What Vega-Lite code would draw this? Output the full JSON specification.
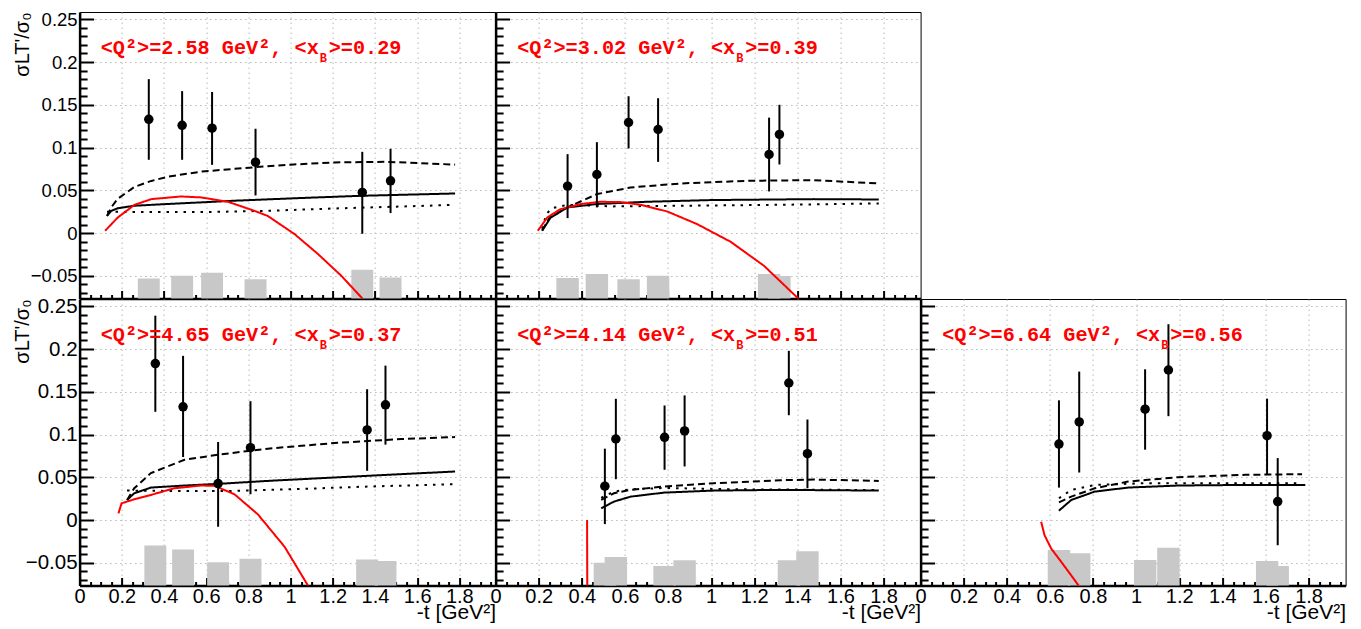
{
"$schema": "https://vega.github.io/schema/vega-lite/v6.json",
"background": "white",
"padding": {"left": 11.6, "top": 9, "right": 0, "bottom": 0},
"bounds": "flush",
"spacing": 0,
"columns": 3,
"config": {
  "view": {"stroke": "#000000", "strokeWidth": 1},
  "axis": {"labelFont": "Liberation Sans", "titleFont": "Liberation Sans", "labelColor": "#000000", "titleColor": "#000000", "tickColor": "#000000", "domainColor": "#000000", "titleFontWeight": "normal", "labelFlush": false, "labelOverlap": false, "gridColor": "#b8b8b8", "gridDash": [1.5, 3.5], "gridWidth": 1}
},
"datasets": {
  "points": [
    {"p":1,"t":0.328,"v":0.133,"lo":0.0857,"hi":0.180},
    {"p":1,"t":0.486,"v":0.126,"lo":0.0857,"hi":0.166},
    {"p":1,"t":0.628,"v":0.1227,"lo":0.0798,"hi":0.165},
    {"p":1,"t":0.834,"v":0.0829,"lo":0.044,"hi":0.122},
    {"p":1,"t":1.340,"v":0.0475,"lo":-0.0008,"hi":0.095},
    {"p":1,"t":1.474,"v":0.0611,"lo":0.0234,"hi":0.0985},
    {"p":2,"t":0.334,"v":0.0549,"lo":0.0175,"hi":0.0923},
    {"p":2,"t":0.470,"v":0.0685,"lo":0.030,"hi":0.1063},
    {"p":2,"t":0.617,"v":0.1293,"lo":0.0989,"hi":0.160},
    {"p":2,"t":0.754,"v":0.1211,"lo":0.0833,"hi":0.1577},
    {"p":2,"t":1.269,"v":0.0919,"lo":0.0487,"hi":0.135},
    {"p":2,"t":1.317,"v":0.1153,"lo":0.0802,"hi":0.150},
    {"p":3,"t":0.359,"v":0.183,"lo":0.1266,"hi":0.239},
    {"p":3,"t":0.4905,"v":0.1324,"lo":0.0737,"hi":0.192},
    {"p":3,"t":0.6566,"v":0.0427,"lo":-0.0078,"hi":0.0913},
    {"p":3,"t":0.810,"v":0.0846,"lo":0.0302,"hi":0.139},
    {"p":3,"t":1.363,"v":0.1054,"lo":0.0576,"hi":0.153},
    {"p":3,"t":1.450,"v":0.1348,"lo":0.0882,"hi":0.1806},
    {"p":4,"t":0.507,"v":0.0396,"lo":-0.0047,"hi":0.0835},
    {"p":4,"t":0.558,"v":0.0948,"lo":0.0478,"hi":0.1418},
    {"p":4,"t":0.784,"v":0.0968,"lo":0.0588,"hi":0.134},
    {"p":4,"t":0.877,"v":0.1042,"lo":0.0627,"hi":0.1458},
    {"p":4,"t":1.3606,"v":0.1603,"lo":0.1226,"hi":0.1979},
    {"p":4,"t":1.447,"v":0.0776,"lo":0.0372,"hi":0.1176},
    {"p":5,"t":0.642,"v":0.0889,"lo":0.038,"hi":0.140},
    {"p":5,"t":0.736,"v":0.1148,"lo":0.0556,"hi":0.1736},
    {"p":5,"t":1.0417,"v":0.1297,"lo":0.0823,"hi":0.1763},
    {"p":5,"t":1.150,"v":0.1755,"lo":0.1215,"hi":0.229},
    {"p":5,"t":1.6076,"v":0.0987,"lo":0.0537,"hi":0.142},
    {"p":5,"t":1.657,"v":0.0216,"lo":-0.0294,"hi":0.0725}
  ],
  "sys": [
    {"p":1,"t0":0.276,"t1":0.380,"top":-0.053},
    {"p":1,"t0":0.434,"t1":0.538,"top":-0.0498},
    {"p":1,"t0":0.576,"t1":0.680,"top":-0.0463},
    {"p":1,"t0":0.782,"t1":0.886,"top":-0.0541},
    {"p":1,"t0":1.288,"t1":1.392,"top":-0.0428},
    {"p":1,"t0":1.422,"t1":1.526,"top":-0.0518},
    {"p":2,"t0":0.282,"t1":0.386,"top":-0.0526},
    {"p":2,"t0":0.418,"t1":0.522,"top":-0.0479},
    {"p":2,"t0":0.565,"t1":0.669,"top":-0.0541},
    {"p":2,"t0":0.702,"t1":0.806,"top":-0.0498},
    {"p":2,"t0":1.265,"t1":1.369,"top":-0.0502},
    {"p":2,"t0":1.217,"t1":1.321,"top":-0.0479},
    {"p":3,"t0":0.307,"t1":0.411,"top":-0.0298},
    {"p":3,"t0":0.4385,"t1":0.5425,"top":-0.0345},
    {"p":3,"t0":0.6046,"t1":0.7086,"top":-0.0494},
    {"p":3,"t0":0.758,"t1":0.862,"top":-0.0451},
    {"p":3,"t0":1.311,"t1":1.415,"top":-0.0462},
    {"p":3,"t0":1.398,"t1":1.502,"top":-0.0478},
    {"p":4,"t0":0.455,"t1":0.559,"top":-0.0498},
    {"p":4,"t0":0.506,"t1":0.610,"top":-0.0431},
    {"p":4,"t0":0.732,"t1":0.836,"top":-0.0537},
    {"p":4,"t0":0.825,"t1":0.929,"top":-0.047},
    {"p":4,"t0":1.309,"t1":1.413,"top":-0.047},
    {"p":4,"t0":1.395,"t1":1.499,"top":-0.0364},
    {"p":5,"t0":0.590,"t1":0.694,"top":-0.0349},
    {"p":5,"t0":0.684,"t1":0.788,"top":-0.0388},
    {"p":5,"t0":0.990,"t1":1.094,"top":-0.0466},
    {"p":5,"t0":1.098,"t1":1.202,"top":-0.0325},
    {"p":5,"t0":1.556,"t1":1.660,"top":-0.0478},
    {"p":5,"t0":1.605,"t1":1.709,"top":-0.0537}
  ],
  "curves": [
    {"p":1,"m":"dashed","t":0.13,"v":0.02},{"p":1,"m":"dashed","t":0.15,"v":0.03},{"p":1,"m":"dashed","t":0.18,"v":0.04},{"p":1,"m":"dashed","t":0.26,"v":0.054},{"p":1,"m":"dashed","t":0.34,"v":0.061},{"p":1,"m":"dashed","t":0.42,"v":0.066},{"p":1,"m":"dashed","t":0.58,"v":0.072},{"p":1,"m":"dashed","t":0.83,"v":0.077},{"p":1,"m":"dashed","t":1.0,"v":0.080},{"p":1,"m":"dashed","t":1.21,"v":0.0826},{"p":1,"m":"dashed","t":1.445,"v":0.0833},{"p":1,"m":"dashed","t":1.6,"v":0.082},{"p":1,"m":"dashed","t":1.78,"v":0.080},
    {"p":1,"m":"solid","t":0.13,"v":0.020},{"p":1,"m":"solid","t":0.15,"v":0.026},{"p":1,"m":"solid","t":0.18,"v":0.029},{"p":1,"m":"solid","t":0.26,"v":0.032},{"p":1,"m":"solid","t":0.42,"v":0.034},{"p":1,"m":"solid","t":0.73,"v":0.0378},{"p":1,"m":"solid","t":1.05,"v":0.041},{"p":1,"m":"solid","t":1.335,"v":0.0436},{"p":1,"m":"solid","t":1.78,"v":0.0463},
    {"p":1,"m":"dotted","t":0.13,"v":0.025},{"p":1,"m":"dotted","t":0.26,"v":0.0245},{"p":1,"m":"dotted","t":0.58,"v":0.0245},{"p":1,"m":"dotted","t":0.89,"v":0.026},{"p":1,"m":"dotted","t":1.21,"v":0.0288},{"p":1,"m":"dotted","t":1.52,"v":0.031},{"p":1,"m":"dotted","t":1.78,"v":0.033},
    {"p":1,"m":"red","t":0.121,"v":0.0027},{"p":1,"m":"red","t":0.18,"v":0.018},{"p":1,"m":"red","t":0.26,"v":0.033},{"p":1,"m":"red","t":0.34,"v":0.0397},{"p":1,"m":"red","t":0.48,"v":0.0428},{"p":1,"m":"red","t":0.576,"v":0.0417},{"p":1,"m":"red","t":0.703,"v":0.0366},{"p":1,"m":"red","t":0.829,"v":0.026},{"p":1,"m":"red","t":0.892,"v":0.020},{"p":1,"m":"red","t":1.019,"v":-0.0012},{"p":1,"m":"red","t":1.13,"v":-0.0245},{"p":1,"m":"red","t":1.24,"v":-0.0498},{"p":1,"m":"red","t":1.335,"v":-0.075},{"p":1,"m":"red","t":1.36,"v":-0.082},
    {"p":2,"m":"dashed","t":0.216,"v":0.003},{"p":2,"m":"dashed","t":0.25,"v":0.018},{"p":2,"m":"dashed","t":0.333,"v":0.030},{"p":2,"m":"dashed","t":0.471,"v":0.0456},{"p":2,"m":"dashed","t":0.6265,"v":0.0533},{"p":2,"m":"dashed","t":0.858,"v":0.058},{"p":2,"m":"dashed","t":1.167,"v":0.0611},{"p":2,"m":"dashed","t":1.476,"v":0.0619},{"p":2,"m":"dashed","t":1.778,"v":0.058},
    {"p":2,"m":"solid","t":0.216,"v":0.0027},{"p":2,"m":"solid","t":0.255,"v":0.018},{"p":2,"m":"solid","t":0.333,"v":0.030},{"p":2,"m":"solid","t":0.471,"v":0.034},{"p":2,"m":"solid","t":0.703,"v":0.0366},{"p":2,"m":"solid","t":1.0,"v":0.0386},{"p":2,"m":"solid","t":1.476,"v":0.0397},{"p":2,"m":"solid","t":1.778,"v":0.0393},
    {"p":2,"m":"dotted","t":0.216,"v":0.005},{"p":2,"m":"dotted","t":0.235,"v":0.022},{"p":2,"m":"dotted","t":0.26,"v":0.029},{"p":2,"m":"dotted","t":0.333,"v":0.0331},{"p":2,"m":"dotted","t":0.54,"v":0.0312},{"p":2,"m":"dotted","t":1.0,"v":0.0323},{"p":2,"m":"dotted","t":1.476,"v":0.0335},{"p":2,"m":"dotted","t":1.778,"v":0.0347},
    {"p":2,"m":"red","t":0.196,"v":0.0027},{"p":2,"m":"red","t":0.24,"v":0.0183},{"p":2,"m":"red","t":0.301,"v":0.028},{"p":2,"m":"red","t":0.394,"v":0.0339},{"p":2,"m":"red","t":0.487,"v":0.0366},{"p":2,"m":"red","t":0.58,"v":0.0362},{"p":2,"m":"red","t":0.672,"v":0.0331},{"p":2,"m":"red","t":0.796,"v":0.0253},{"p":2,"m":"red","t":0.935,"v":0.0105},{"p":2,"m":"red","t":1.09,"v":-0.0101},{"p":2,"m":"red","t":1.245,"v":-0.0382},{"p":2,"m":"red","t":1.399,"v":-0.0752},{"p":2,"m":"red","t":1.42,"v":-0.082},
    {"p":3,"m":"dashed","t":0.225,"v":0.0235},{"p":3,"m":"dashed","t":0.259,"v":0.0372},{"p":3,"m":"dashed","t":0.338,"v":0.0549},{"p":3,"m":"dashed","t":0.497,"v":0.0705},{"p":3,"m":"dashed","t":0.655,"v":0.0764},{"p":3,"m":"dashed","t":0.892,"v":0.0835},{"p":3,"m":"dashed","t":1.208,"v":0.0901},{"p":3,"m":"dashed","t":1.524,"v":0.0948},{"p":3,"m":"dashed","t":1.78,"v":0.097},
    {"p":3,"m":"solid","t":0.225,"v":0.0235},{"p":3,"m":"solid","t":0.259,"v":0.0313},{"p":3,"m":"solid","t":0.338,"v":0.038},{"p":3,"m":"solid","t":0.497,"v":0.0404},{"p":3,"m":"solid","t":0.655,"v":0.0423},{"p":3,"m":"solid","t":0.892,"v":0.0458},{"p":3,"m":"solid","t":1.208,"v":0.0498},{"p":3,"m":"solid","t":1.524,"v":0.0537},{"p":3,"m":"solid","t":1.78,"v":0.0568},
    {"p":3,"m":"dotted","t":0.225,"v":0.0345},{"p":3,"m":"dotted","t":0.414,"v":0.0341},{"p":3,"m":"dotted","t":0.734,"v":0.0341},{"p":3,"m":"dotted","t":1.05,"v":0.0364},{"p":3,"m":"dotted","t":1.366,"v":0.0392},{"p":3,"m":"dotted","t":1.78,"v":0.042},
    {"p":3,"m":"red","t":0.184,"v":0.0078},{"p":3,"m":"red","t":0.199,"v":0.0196},{"p":3,"m":"red","t":0.259,"v":0.0243},{"p":3,"m":"red","t":0.338,"v":0.0294},{"p":3,"m":"red","t":0.449,"v":0.0372},{"p":3,"m":"red","t":0.576,"v":0.0404},{"p":3,"m":"red","t":0.639,"v":0.040},{"p":3,"m":"red","t":0.734,"v":0.0302},{"p":3,"m":"red","t":0.845,"v":0.0067},{"p":3,"m":"red","t":0.972,"v":-0.0313},{"p":3,"m":"red","t":1.082,"v":-0.0764},{"p":3,"m":"red","t":1.1,"v":-0.083},
    {"p":4,"m":"red","t":0.4245,"v":0.0},{"p":4,"m":"red","t":0.4255,"v":-0.09},
    {"p":4,"m":"dashed","t":0.49,"v":0.0235},{"p":4,"m":"dashed","t":0.549,"v":0.0313},{"p":4,"m":"dashed","t":0.626,"v":0.0353},{"p":4,"m":"dashed","t":0.781,"v":0.0392},{"p":4,"m":"dashed","t":1.013,"v":0.0431},{"p":4,"m":"dashed","t":1.322,"v":0.0466},{"p":4,"m":"dashed","t":1.476,"v":0.0474},{"p":4,"m":"dashed","t":1.778,"v":0.0458},
    {"p":4,"m":"solid","t":0.49,"v":0.0137},{"p":4,"m":"solid","t":0.549,"v":0.0216},{"p":4,"m":"solid","t":0.626,"v":0.0274},{"p":4,"m":"solid","t":0.781,"v":0.0321},{"p":4,"m":"solid","t":1.013,"v":0.0345},{"p":4,"m":"solid","t":1.322,"v":0.0353},{"p":4,"m":"solid","t":1.778,"v":0.0345},
    {"p":4,"m":"dotted","t":0.49,"v":0.026},{"p":4,"m":"dotted","t":0.549,"v":0.0333},{"p":4,"m":"dotted","t":0.626,"v":0.036},{"p":4,"m":"dotted","t":0.781,"v":0.0375},{"p":4,"m":"dotted","t":0.9,"v":0.037},{"p":4,"m":"dotted","t":1.1,"v":0.036},{"p":4,"m":"dotted","t":1.5,"v":0.0355},{"p":4,"m":"dotted","t":1.778,"v":0.035},
    {"p":5,"m":"red","t":0.5595,"v":-0.002},{"p":5,"m":"red","t":0.575,"v":-0.0176},{"p":5,"m":"red","t":0.606,"v":-0.0333},{"p":5,"m":"red","t":0.653,"v":-0.049},{"p":5,"m":"red","t":0.699,"v":-0.0647},{"p":5,"m":"red","t":0.735,"v":-0.0772},{"p":5,"m":"red","t":0.75,"v":-0.083},
    {"p":5,"m":"dashed","t":0.642,"v":0.0208},{"p":5,"m":"dashed","t":0.699,"v":0.0274},{"p":5,"m":"dashed","t":0.808,"v":0.0372},{"p":5,"m":"dashed","t":0.963,"v":0.045},{"p":5,"m":"dashed","t":1.196,"v":0.0502},{"p":5,"m":"dashed","t":1.506,"v":0.0529},{"p":5,"m":"dashed","t":1.77,"v":0.0537},
    {"p":5,"m":"solid","t":0.642,"v":0.011},{"p":5,"m":"solid","t":0.699,"v":0.0235},{"p":5,"m":"solid","t":0.808,"v":0.0333},{"p":5,"m":"solid","t":0.963,"v":0.038},{"p":5,"m":"solid","t":1.196,"v":0.0404},{"p":5,"m":"solid","t":1.506,"v":0.0411},{"p":5,"m":"solid","t":1.785,"v":0.0411},
    {"p":5,"m":"dotted","t":0.642,"v":0.0255},{"p":5,"m":"dotted","t":0.699,"v":0.0353},{"p":5,"m":"dotted","t":0.808,"v":0.0411},{"p":5,"m":"dotted","t":1.04,"v":0.0431},{"p":5,"m":"dotted","t":1.35,"v":0.0431},{"p":5,"m":"dotted","t":1.77,"v":0.0431}
  ],
  "labels": [
    {"p":1,"a":"<Q²>=2.58 GeV², <x","b":">=0.29"},
    {"p":2,"a":"<Q²>=3.02 GeV², <x","b":">=0.39"},
    {"p":3,"a":"<Q²>=4.65 GeV², <x","b":">=0.37"},
    {"p":4,"a":"<Q²>=4.14 GeV², <x","b":">=0.51"},
    {"p":5,"a":"<Q²>=6.64 GeV², <x","b":">=0.56"}
  ]
},
"concat": [
{
 "width": 416, "height": 286.5,
 "layer": [
  {"data":{"name":"sys"},"transform":[{"filter":"datum.p==1"}],
   "mark":{"type":"rect","color":"#c8c8c8","clip":true},
   "encoding":{
    "x":{"field":"t0","type":"quantitative","scale":{"domain":[0,1.972],"nice":false,"zero":false},
         "axis":{"orient":"bottom","values":[0,0.2,0.4,0.6,0.8,1,1.2,1.4,1.6,1.8],"grid":true,"labels":false,"tickSize":-8,"tickWidth":2,"domain":true,"domainWidth":2.5,"title":null}},
    "x2":{"field":"t1"},
    "y":{"field":"top","type":"quantitative","scale":{"domain":[-0.0765,0.2585],"nice":false,"zero":false},
         "axis":{"orient":"left","values":[-0.05,0,0.05,0.1,0.15,0.2,0.25],"format":"~g","grid":true,"labels":true,"labelFontSize":18.5,"labelPadding":16.5,"tickSize":-14,"tickWidth":2,"domain":true,"domainWidth":2.5,"title":"σLT'/σ₀","titleFontSize":20,"titleAngle":270,"titleX":-57,"titleY":0,"titleAlign":"right","titleBaseline":"middle"}},
    "y2":{"datum":-0.09}}},
  {"data":{"name":"curves"},"transform":[{"filter":"datum.p==1"}],
   "mark":{"type":"line","clip":true,"strokeWidth":2},
   "encoding":{
    "x":{"field":"t","type":"quantitative","scale":{"domain":[0,1.972],"nice":false,"zero":false},
         "axis":{"orient":"bottom","values":[0.05,0.1,0.15,0.25,0.3,0.35,0.45,0.5,0.55,0.65,0.7,0.75,0.85,0.9,0.95,1.05,1.1,1.15,1.25,1.3,1.35,1.45,1.5,1.55,1.65,1.7,1.75,1.85,1.9,1.95],"grid":false,"labels":false,"domain":false,"tickSize":-4,"tickWidth":2,"title":null}},
    "y":{"field":"v","type":"quantitative","scale":{"domain":[-0.0765,0.2585],"nice":false,"zero":false},
         "axis":{"orient":"left","values":[-0.07,-0.06,-0.04,-0.03,-0.02,-0.01,0.01,0.02,0.03,0.04,0.06,0.07,0.08,0.09,0.11,0.12,0.13,0.14,0.16,0.17,0.18,0.19,0.21,0.22,0.23,0.24],"grid":false,"labels":false,"domain":false,"tickSize":-7.5,"tickWidth":2,"title":null}},
    "color":{"field":"m","type":"nominal","scale":{"domain":["solid","dashed","dotted","red"],"range":["#000000","#000000","#000000","#ff0000"]},"legend":null},
    "strokeDash":{"field":"m","type":"nominal","scale":{"domain":["solid","dashed","dotted","red"],"range":[[1,0],[7,4],[2.5,6],[1,0]]},"legend":null}}},
  {"data":{"name":"points"},"transform":[{"filter":"datum.p==1"}],
   "mark":{"type":"rule","color":"#000000","strokeWidth":2},
   "encoding":{"x":{"field":"t","type":"quantitative","scale":{"domain":[0,1.972],"nice":false,"zero":false},"axis":null},
    "y":{"field":"lo","type":"quantitative","scale":{"domain":[-0.0765,0.2585],"nice":false,"zero":false},"axis":null},"y2":{"field":"hi"}}},
  {"data":{"name":"points"},"transform":[{"filter":"datum.p==1"}],
   "mark":{"type":"circle","color":"#000000","size":90,"opacity":1},
   "encoding":{"x":{"field":"t","type":"quantitative","scale":{"domain":[0,1.972],"nice":false,"zero":false},"axis":null},
    "y":{"field":"v","type":"quantitative","scale":{"domain":[-0.0765,0.2585],"nice":false,"zero":false},"axis":null}}},
  {"data":{"name":"labels"},"transform":[{"filter":"datum.p==1"}],
   "mark":{"type":"text","align":"left","baseline":"alphabetic","font":"Liberation Mono","fontWeight":"bold","fontSize":20.2,"color":"#ff0000"},
   "encoding":{"x":{"datum":0.1,"type":"quantitative","scale":{"domain":[0,1.972],"nice":false,"zero":false},"axis":null},
    "y":{"datum":0.2095,"type":"quantitative","scale":{"domain":[-0.0765,0.2585],"nice":false,"zero":false},"axis":null},
    "text":{"field":"a"}}},
  {"data":{"name":"labels"},"transform":[{"filter":"datum.p==1"}],
   "mark":{"type":"text","align":"left","baseline":"alphabetic","font":"Liberation Mono","fontWeight":"bold","fontSize":12,"dx":219,"dy":8,"color":"#ff0000"},
   "encoding":{"x":{"datum":0.1,"type":"quantitative","scale":{"domain":[0,1.972],"nice":false,"zero":false},"axis":null},
    "y":{"datum":0.2095,"type":"quantitative","scale":{"domain":[-0.0765,0.2585],"nice":false,"zero":false},"axis":null},
    "text":{"value":"B"}}},
  {"data":{"name":"labels"},"transform":[{"filter":"datum.p==1"}],
   "mark":{"type":"text","align":"left","baseline":"alphabetic","font":"Liberation Mono","fontWeight":"bold","fontSize":20.2,"dx":228,"color":"#ff0000"},
   "encoding":{"x":{"datum":0.1,"type":"quantitative","scale":{"domain":[0,1.972],"nice":false,"zero":false},"axis":null},
    "y":{"datum":0.2095,"type":"quantitative","scale":{"domain":[-0.0765,0.2585],"nice":false,"zero":false},"axis":null},
    "text":{"field":"b"}}}
 ],
 "resolve":{"axis":{"x":"independent","y":"independent"}}
},
{
 "width": 425, "height": 286.5,
 "layer": [
  {"data":{"name":"sys"},"transform":[{"filter":"datum.p==2"}],
   "mark":{"type":"rect","color":"#c8c8c8","clip":true},
   "encoding":{
    "x":{"field":"t0","type":"quantitative","scale":{"domain":[0,1.972],"nice":false,"zero":false},
         "axis":{"orient":"bottom","values":[0,0.2,0.4,0.6,0.8,1,1.2,1.4,1.6,1.8],"grid":true,"labels":false,"tickSize":-8,"tickWidth":2,"domain":true,"domainWidth":2.5,"title":null}},
    "x2":{"field":"t1"},
    "y":{"field":"top","type":"quantitative","scale":{"domain":[-0.0765,0.2585],"nice":false,"zero":false},
         "axis":{"orient":"left","values":[-0.05,0,0.05,0.1,0.15,0.2,0.25],"grid":true,"labels":false,"tickSize":-14,"tickWidth":2,"domain":true,"domainWidth":2.5,"title":null}},
    "y2":{"datum":-0.09}}},
  {"data":{"name":"curves"},"transform":[{"filter":"datum.p==2"}],
   "mark":{"type":"line","clip":true,"strokeWidth":2},
   "encoding":{
    "x":{"field":"t","type":"quantitative","scale":{"domain":[0,1.972],"nice":false,"zero":false},
         "axis":{"orient":"bottom","values":[0.05,0.1,0.15,0.25,0.3,0.35,0.45,0.5,0.55,0.65,0.7,0.75,0.85,0.9,0.95,1.05,1.1,1.15,1.25,1.3,1.35,1.45,1.5,1.55,1.65,1.7,1.75,1.85,1.9,1.95],"grid":false,"labels":false,"domain":false,"tickSize":-4,"tickWidth":2,"title":null}},
    "y":{"field":"v","type":"quantitative","scale":{"domain":[-0.0765,0.2585],"nice":false,"zero":false},
         "axis":{"orient":"left","values":[-0.07,-0.06,-0.04,-0.03,-0.02,-0.01,0.01,0.02,0.03,0.04,0.06,0.07,0.08,0.09,0.11,0.12,0.13,0.14,0.16,0.17,0.18,0.19,0.21,0.22,0.23,0.24],"grid":false,"labels":false,"domain":false,"tickSize":-7.5,"tickWidth":2,"title":null}},
    "color":{"field":"m","type":"nominal","scale":{"domain":["solid","dashed","dotted","red"],"range":["#000000","#000000","#000000","#ff0000"]},"legend":null},
    "strokeDash":{"field":"m","type":"nominal","scale":{"domain":["solid","dashed","dotted","red"],"range":[[1,0],[7,4],[2.5,6],[1,0]]},"legend":null}}},
  {"data":{"name":"points"},"transform":[{"filter":"datum.p==2"}],
   "mark":{"type":"rule","color":"#000000","strokeWidth":2},
   "encoding":{"x":{"field":"t","type":"quantitative","scale":{"domain":[0,1.972],"nice":false,"zero":false},"axis":null},
    "y":{"field":"lo","type":"quantitative","scale":{"domain":[-0.0765,0.2585],"nice":false,"zero":false},"axis":null},"y2":{"field":"hi"}}},
  {"data":{"name":"points"},"transform":[{"filter":"datum.p==2"}],
   "mark":{"type":"circle","color":"#000000","size":90,"opacity":1},
   "encoding":{"x":{"field":"t","type":"quantitative","scale":{"domain":[0,1.972],"nice":false,"zero":false},"axis":null},
    "y":{"field":"v","type":"quantitative","scale":{"domain":[-0.0765,0.2585],"nice":false,"zero":false},"axis":null}}},
  {"data":{"name":"labels"},"transform":[{"filter":"datum.p==2"}],
   "mark":{"type":"text","align":"left","baseline":"alphabetic","font":"Liberation Mono","fontWeight":"bold","fontSize":20.2,"color":"#ff0000"},
   "encoding":{"x":{"datum":0.1,"type":"quantitative","scale":{"domain":[0,1.972],"nice":false,"zero":false},"axis":null},
    "y":{"datum":0.2095,"type":"quantitative","scale":{"domain":[-0.0765,0.2585],"nice":false,"zero":false},"axis":null},
    "text":{"field":"a"}}},
  {"data":{"name":"labels"},"transform":[{"filter":"datum.p==2"}],
   "mark":{"type":"text","align":"left","baseline":"alphabetic","font":"Liberation Mono","fontWeight":"bold","fontSize":12,"dx":219,"dy":8,"color":"#ff0000"},
   "encoding":{"x":{"datum":0.1,"type":"quantitative","scale":{"domain":[0,1.972],"nice":false,"zero":false},"axis":null},
    "y":{"datum":0.2095,"type":"quantitative","scale":{"domain":[-0.0765,0.2585],"nice":false,"zero":false},"axis":null},
    "text":{"value":"B"}}},
  {"data":{"name":"labels"},"transform":[{"filter":"datum.p==2"}],
   "mark":{"type":"text","align":"left","baseline":"alphabetic","font":"Liberation Mono","fontWeight":"bold","fontSize":20.2,"dx":228,"color":"#ff0000"},
   "encoding":{"x":{"datum":0.1,"type":"quantitative","scale":{"domain":[0,1.972],"nice":false,"zero":false},"axis":null},
    "y":{"datum":0.2095,"type":"quantitative","scale":{"domain":[-0.0765,0.2585],"nice":false,"zero":false},"axis":null},
    "text":{"field":"b"}}}
 ],
 "resolve":{"axis":{"x":"independent","y":"independent"}}
},
{
 "width": 425, "height": 286.5,
 "view": {"stroke": null, "fill": null},
 "data": {"values": []},
 "mark": {"type": "point", "opacity": 0},
 "encoding": {}
},
{
 "width": 416, "height": 286.5,
 "layer": [
  {"data":{"name":"sys"},"transform":[{"filter":"datum.p==3"}],
   "mark":{"type":"rect","color":"#c8c8c8","clip":true},
   "encoding":{
    "x":{"field":"t0","type":"quantitative","scale":{"domain":[0,1.972],"nice":false,"zero":false},
         "axis":{"orient":"bottom","values":[0,0.2,0.4,0.6,0.8,1,1.2,1.4,1.6,1.8],"format":"~g","grid":true,"labels":true,"labelFontSize":20,"labelPadding":9.5,"labelBaseline":"top","tickSize":-8,"tickWidth":2,"domain":true,"domainWidth":2.5,"title":"-t [GeV²]","titleFontSize":21,"titleAngle":0,"titleX":416,"titleY":33,"titleAlign":"right","titleBaseline":"alphabetic"}},
    "x2":{"field":"t1"},
    "y":{"field":"top","type":"quantitative","scale":{"domain":[-0.0765,0.2585],"nice":false,"zero":false},
         "axis":{"orient":"left","values":[-0.05,0,0.05,0.1,0.15,0.2,0.25],"format":"~g","grid":true,"labels":true,"labelFontSize":20.5,"labelPadding":16.5,"tickSize":-14,"tickWidth":2,"domain":true,"domainWidth":2.5,"title":"σLT'/σ₀","titleFontSize":20,"titleAngle":270,"titleX":-57,"titleY":0,"titleAlign":"right","titleBaseline":"middle"}},
    "y2":{"datum":-0.09}}},
  {"data":{"name":"curves"},"transform":[{"filter":"datum.p==3"}],
   "mark":{"type":"line","clip":true,"strokeWidth":2},
   "encoding":{
    "x":{"field":"t","type":"quantitative","scale":{"domain":[0,1.972],"nice":false,"zero":false},
         "axis":{"orient":"bottom","values":[0.05,0.1,0.15,0.25,0.3,0.35,0.45,0.5,0.55,0.65,0.7,0.75,0.85,0.9,0.95,1.05,1.1,1.15,1.25,1.3,1.35,1.45,1.5,1.55,1.65,1.7,1.75,1.85,1.9,1.95],"grid":false,"labels":false,"domain":false,"tickSize":-4,"tickWidth":2,"title":null}},
    "y":{"field":"v","type":"quantitative","scale":{"domain":[-0.0765,0.2585],"nice":false,"zero":false},
         "axis":{"orient":"left","values":[-0.07,-0.06,-0.04,-0.03,-0.02,-0.01,0.01,0.02,0.03,0.04,0.06,0.07,0.08,0.09,0.11,0.12,0.13,0.14,0.16,0.17,0.18,0.19,0.21,0.22,0.23,0.24],"grid":false,"labels":false,"domain":false,"tickSize":-7.5,"tickWidth":2,"title":null}},
    "color":{"field":"m","type":"nominal","scale":{"domain":["solid","dashed","dotted","red"],"range":["#000000","#000000","#000000","#ff0000"]},"legend":null},
    "strokeDash":{"field":"m","type":"nominal","scale":{"domain":["solid","dashed","dotted","red"],"range":[[1,0],[7,4],[2.5,6],[1,0]]},"legend":null}}},
  {"data":{"name":"points"},"transform":[{"filter":"datum.p==3"}],
   "mark":{"type":"rule","color":"#000000","strokeWidth":2},
   "encoding":{"x":{"field":"t","type":"quantitative","scale":{"domain":[0,1.972],"nice":false,"zero":false},"axis":null},
    "y":{"field":"lo","type":"quantitative","scale":{"domain":[-0.0765,0.2585],"nice":false,"zero":false},"axis":null},"y2":{"field":"hi"}}},
  {"data":{"name":"points"},"transform":[{"filter":"datum.p==3"}],
   "mark":{"type":"circle","color":"#000000","size":90,"opacity":1},
   "encoding":{"x":{"field":"t","type":"quantitative","scale":{"domain":[0,1.972],"nice":false,"zero":false},"axis":null},
    "y":{"field":"v","type":"quantitative","scale":{"domain":[-0.0765,0.2585],"nice":false,"zero":false},"axis":null}}},
  {"data":{"name":"labels"},"transform":[{"filter":"datum.p==3"}],
   "mark":{"type":"text","align":"left","baseline":"alphabetic","font":"Liberation Mono","fontWeight":"bold","fontSize":20.2,"color":"#ff0000"},
   "encoding":{"x":{"datum":0.1,"type":"quantitative","scale":{"domain":[0,1.972],"nice":false,"zero":false},"axis":null},
    "y":{"datum":0.2095,"type":"quantitative","scale":{"domain":[-0.0765,0.2585],"nice":false,"zero":false},"axis":null},
    "text":{"field":"a"}}},
  {"data":{"name":"labels"},"transform":[{"filter":"datum.p==3"}],
   "mark":{"type":"text","align":"left","baseline":"alphabetic","font":"Liberation Mono","fontWeight":"bold","fontSize":12,"dx":219,"dy":8,"color":"#ff0000"},
   "encoding":{"x":{"datum":0.1,"type":"quantitative","scale":{"domain":[0,1.972],"nice":false,"zero":false},"axis":null},
    "y":{"datum":0.2095,"type":"quantitative","scale":{"domain":[-0.0765,0.2585],"nice":false,"zero":false},"axis":null},
    "text":{"value":"B"}}},
  {"data":{"name":"labels"},"transform":[{"filter":"datum.p==3"}],
   "mark":{"type":"text","align":"left","baseline":"alphabetic","font":"Liberation Mono","fontWeight":"bold","fontSize":20.2,"dx":228,"color":"#ff0000"},
   "encoding":{"x":{"datum":0.1,"type":"quantitative","scale":{"domain":[0,1.972],"nice":false,"zero":false},"axis":null},
    "y":{"datum":0.2095,"type":"quantitative","scale":{"domain":[-0.0765,0.2585],"nice":false,"zero":false},"axis":null},
    "text":{"field":"b"}}}
 ],
 "resolve":{"axis":{"x":"independent","y":"independent"}}
},
{
 "width": 425, "height": 286.5,
 "layer": [
  {"data":{"name":"sys"},"transform":[{"filter":"datum.p==4"}],
   "mark":{"type":"rect","color":"#c8c8c8","clip":true},
   "encoding":{
    "x":{"field":"t0","type":"quantitative","scale":{"domain":[0,1.972],"nice":false,"zero":false},
         "axis":{"orient":"bottom","values":[0,0.2,0.4,0.6,0.8,1,1.2,1.4,1.6,1.8],"format":"~g","grid":true,"labels":true,"labelFontSize":20,"labelPadding":9.5,"labelBaseline":"top","tickSize":-8,"tickWidth":2,"domain":true,"domainWidth":2.5,"title":"-t [GeV²]","titleFontSize":21,"titleAngle":0,"titleX":425,"titleY":33,"titleAlign":"right","titleBaseline":"alphabetic"}},
    "x2":{"field":"t1"},
    "y":{"field":"top","type":"quantitative","scale":{"domain":[-0.0765,0.2585],"nice":false,"zero":false},
         "axis":{"orient":"left","values":[-0.05,0,0.05,0.1,0.15,0.2,0.25],"grid":true,"labels":false,"tickSize":-14,"tickWidth":2,"domain":true,"domainWidth":2.5,"title":null}},
    "y2":{"datum":-0.09}}},
  {"data":{"name":"curves"},"transform":[{"filter":"datum.p==4"}],
   "mark":{"type":"line","clip":true,"strokeWidth":2},
   "encoding":{
    "x":{"field":"t","type":"quantitative","scale":{"domain":[0,1.972],"nice":false,"zero":false},
         "axis":{"orient":"bottom","values":[0.05,0.1,0.15,0.25,0.3,0.35,0.45,0.5,0.55,0.65,0.7,0.75,0.85,0.9,0.95,1.05,1.1,1.15,1.25,1.3,1.35,1.45,1.5,1.55,1.65,1.7,1.75,1.85,1.9,1.95],"grid":false,"labels":false,"domain":false,"tickSize":-4,"tickWidth":2,"title":null}},
    "y":{"field":"v","type":"quantitative","scale":{"domain":[-0.0765,0.2585],"nice":false,"zero":false},
         "axis":{"orient":"left","values":[-0.07,-0.06,-0.04,-0.03,-0.02,-0.01,0.01,0.02,0.03,0.04,0.06,0.07,0.08,0.09,0.11,0.12,0.13,0.14,0.16,0.17,0.18,0.19,0.21,0.22,0.23,0.24],"grid":false,"labels":false,"domain":false,"tickSize":-7.5,"tickWidth":2,"title":null}},
    "color":{"field":"m","type":"nominal","scale":{"domain":["solid","dashed","dotted","red"],"range":["#000000","#000000","#000000","#ff0000"]},"legend":null},
    "strokeDash":{"field":"m","type":"nominal","scale":{"domain":["solid","dashed","dotted","red"],"range":[[1,0],[7,4],[2.5,6],[1,0]]},"legend":null}}},
  {"data":{"name":"points"},"transform":[{"filter":"datum.p==4"}],
   "mark":{"type":"rule","color":"#000000","strokeWidth":2},
   "encoding":{"x":{"field":"t","type":"quantitative","scale":{"domain":[0,1.972],"nice":false,"zero":false},"axis":null},
    "y":{"field":"lo","type":"quantitative","scale":{"domain":[-0.0765,0.2585],"nice":false,"zero":false},"axis":null},"y2":{"field":"hi"}}},
  {"data":{"name":"points"},"transform":[{"filter":"datum.p==4"}],
   "mark":{"type":"circle","color":"#000000","size":90,"opacity":1},
   "encoding":{"x":{"field":"t","type":"quantitative","scale":{"domain":[0,1.972],"nice":false,"zero":false},"axis":null},
    "y":{"field":"v","type":"quantitative","scale":{"domain":[-0.0765,0.2585],"nice":false,"zero":false},"axis":null}}},
  {"data":{"name":"labels"},"transform":[{"filter":"datum.p==4"}],
   "mark":{"type":"text","align":"left","baseline":"alphabetic","font":"Liberation Mono","fontWeight":"bold","fontSize":20.2,"color":"#ff0000"},
   "encoding":{"x":{"datum":0.1,"type":"quantitative","scale":{"domain":[0,1.972],"nice":false,"zero":false},"axis":null},
    "y":{"datum":0.2095,"type":"quantitative","scale":{"domain":[-0.0765,0.2585],"nice":false,"zero":false},"axis":null},
    "text":{"field":"a"}}},
  {"data":{"name":"labels"},"transform":[{"filter":"datum.p==4"}],
   "mark":{"type":"text","align":"left","baseline":"alphabetic","font":"Liberation Mono","fontWeight":"bold","fontSize":12,"dx":219,"dy":8,"color":"#ff0000"},
   "encoding":{"x":{"datum":0.1,"type":"quantitative","scale":{"domain":[0,1.972],"nice":false,"zero":false},"axis":null},
    "y":{"datum":0.2095,"type":"quantitative","scale":{"domain":[-0.0765,0.2585],"nice":false,"zero":false},"axis":null},
    "text":{"value":"B"}}},
  {"data":{"name":"labels"},"transform":[{"filter":"datum.p==4"}],
   "mark":{"type":"text","align":"left","baseline":"alphabetic","font":"Liberation Mono","fontWeight":"bold","fontSize":20.2,"dx":228,"color":"#ff0000"},
   "encoding":{"x":{"datum":0.1,"type":"quantitative","scale":{"domain":[0,1.972],"nice":false,"zero":false},"axis":null},
    "y":{"datum":0.2095,"type":"quantitative","scale":{"domain":[-0.0765,0.2585],"nice":false,"zero":false},"axis":null},
    "text":{"field":"b"}}}
 ],
 "resolve":{"axis":{"x":"independent","y":"independent"}}
},
{
 "width": 425, "height": 286.5,
 "layer": [
  {"data":{"name":"sys"},"transform":[{"filter":"datum.p==5"}],
   "mark":{"type":"rect","color":"#c8c8c8","clip":true},
   "encoding":{
    "x":{"field":"t0","type":"quantitative","scale":{"domain":[0,1.972],"nice":false,"zero":false},
         "axis":{"orient":"bottom","values":[0,0.2,0.4,0.6,0.8,1,1.2,1.4,1.6,1.8],"format":"~g","grid":true,"labels":true,"labelFontSize":20,"labelPadding":9.5,"labelBaseline":"top","tickSize":-8,"tickWidth":2,"domain":true,"domainWidth":2.5,"title":"-t [GeV²]","titleFontSize":21,"titleAngle":0,"titleX":425,"titleY":33,"titleAlign":"right","titleBaseline":"alphabetic"}},
    "x2":{"field":"t1"},
    "y":{"field":"top","type":"quantitative","scale":{"domain":[-0.0765,0.2585],"nice":false,"zero":false},
         "axis":{"orient":"left","values":[-0.05,0,0.05,0.1,0.15,0.2,0.25],"grid":true,"labels":false,"tickSize":-14,"tickWidth":2,"domain":true,"domainWidth":2.5,"title":null}},
    "y2":{"datum":-0.09}}},
  {"data":{"name":"curves"},"transform":[{"filter":"datum.p==5"}],
   "mark":{"type":"line","clip":true,"strokeWidth":2},
   "encoding":{
    "x":{"field":"t","type":"quantitative","scale":{"domain":[0,1.972],"nice":false,"zero":false},
         "axis":{"orient":"bottom","values":[0.05,0.1,0.15,0.25,0.3,0.35,0.45,0.5,0.55,0.65,0.7,0.75,0.85,0.9,0.95,1.05,1.1,1.15,1.25,1.3,1.35,1.45,1.5,1.55,1.65,1.7,1.75,1.85,1.9,1.95],"grid":false,"labels":false,"domain":false,"tickSize":-4,"tickWidth":2,"title":null}},
    "y":{"field":"v","type":"quantitative","scale":{"domain":[-0.0765,0.2585],"nice":false,"zero":false},
         "axis":{"orient":"left","values":[-0.07,-0.06,-0.04,-0.03,-0.02,-0.01,0.01,0.02,0.03,0.04,0.06,0.07,0.08,0.09,0.11,0.12,0.13,0.14,0.16,0.17,0.18,0.19,0.21,0.22,0.23,0.24],"grid":false,"labels":false,"domain":false,"tickSize":-7.5,"tickWidth":2,"title":null}},
    "color":{"field":"m","type":"nominal","scale":{"domain":["solid","dashed","dotted","red"],"range":["#000000","#000000","#000000","#ff0000"]},"legend":null},
    "strokeDash":{"field":"m","type":"nominal","scale":{"domain":["solid","dashed","dotted","red"],"range":[[1,0],[7,4],[2.5,6],[1,0]]},"legend":null}}},
  {"data":{"name":"points"},"transform":[{"filter":"datum.p==5"}],
   "mark":{"type":"rule","color":"#000000","strokeWidth":2},
   "encoding":{"x":{"field":"t","type":"quantitative","scale":{"domain":[0,1.972],"nice":false,"zero":false},"axis":null},
    "y":{"field":"lo","type":"quantitative","scale":{"domain":[-0.0765,0.2585],"nice":false,"zero":false},"axis":null},"y2":{"field":"hi"}}},
  {"data":{"name":"points"},"transform":[{"filter":"datum.p==5"}],
   "mark":{"type":"circle","color":"#000000","size":90,"opacity":1},
   "encoding":{"x":{"field":"t","type":"quantitative","scale":{"domain":[0,1.972],"nice":false,"zero":false},"axis":null},
    "y":{"field":"v","type":"quantitative","scale":{"domain":[-0.0765,0.2585],"nice":false,"zero":false},"axis":null}}},
  {"data":{"name":"labels"},"transform":[{"filter":"datum.p==5"}],
   "mark":{"type":"text","align":"left","baseline":"alphabetic","font":"Liberation Mono","fontWeight":"bold","fontSize":20.2,"color":"#ff0000"},
   "encoding":{"x":{"datum":0.1,"type":"quantitative","scale":{"domain":[0,1.972],"nice":false,"zero":false},"axis":null},
    "y":{"datum":0.2095,"type":"quantitative","scale":{"domain":[-0.0765,0.2585],"nice":false,"zero":false},"axis":null},
    "text":{"field":"a"}}},
  {"data":{"name":"labels"},"transform":[{"filter":"datum.p==5"}],
   "mark":{"type":"text","align":"left","baseline":"alphabetic","font":"Liberation Mono","fontWeight":"bold","fontSize":12,"dx":219,"dy":8,"color":"#ff0000"},
   "encoding":{"x":{"datum":0.1,"type":"quantitative","scale":{"domain":[0,1.972],"nice":false,"zero":false},"axis":null},
    "y":{"datum":0.2095,"type":"quantitative","scale":{"domain":[-0.0765,0.2585],"nice":false,"zero":false},"axis":null},
    "text":{"value":"B"}}},
  {"data":{"name":"labels"},"transform":[{"filter":"datum.p==5"}],
   "mark":{"type":"text","align":"left","baseline":"alphabetic","font":"Liberation Mono","fontWeight":"bold","fontSize":20.2,"dx":228,"color":"#ff0000"},
   "encoding":{"x":{"datum":0.1,"type":"quantitative","scale":{"domain":[0,1.972],"nice":false,"zero":false},"axis":null},
    "y":{"datum":0.2095,"type":"quantitative","scale":{"domain":[-0.0765,0.2585],"nice":false,"zero":false},"axis":null},
    "text":{"field":"b"}}}
 ],
 "resolve":{"axis":{"x":"independent","y":"independent"}}
}
]
}
